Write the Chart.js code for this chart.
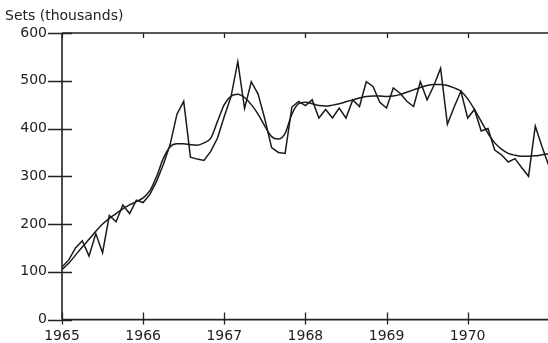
<!DOCTYPE html>
<html>
<head>
<meta charset="utf-8">
<script src="https://cdn.jsdelivr.net/npm/chart.js@4.4.1/dist/chart.umd.min.js"></script>
<style>
html,body{margin:0;padding:0;background:#fff;}
#wrap{width:548px;height:343px;position:relative;}
</style>
</head>
<body>
<div id="wrap"><canvas id="c" width="548" height="343"></canvas></div>
<script>
// Monthly observations starting January 1965
const startYear = 1965;
const monthly = [
 110,125,150,165,133,180,140,218,205,240,222,250,
 245,262,290,325,367,430,457,340,336,333,352,380,
 425,467,540,442,498,472,420,360,350,348,445,457,
 448,460,422,440,422,443,422,460,446,498,488,455,
 443,485,474,457,446,498,460,490,526,409,445,478,
 422,440,395,400,355,345,330,337,318,300,405,362,322
];
const trend = [
 105,118,135,152,168,185,200,212,222,232,240,247,
 255,270,300,338,362,368,368,366,365,370,380,415,
 450,468,472,465,450,430,405,383,378,390,430,452,
 455,452,448,447,449,452,456,460,464,467,468,468,
 467,468,471,476,481,486,490,492,492,490,485,478,
 462,440,415,390,370,357,348,344,342,342,343,345,347
];
const yearTicks = [1965,1966,1967,1968,1969,1970];
const valueTicks = [0,100,200,300,400,500,600];
const yTitle = 'Sets (thousands)';

const toPts = arr => arr.map((v,i)=>({x:startYear+i/12, y:v}));
const FONT = '"DejaVu Sans", "Liberation Sans", Arial, sans-serif';

const axisPlugin = {
  id:'axisPlugin',
  afterDraw(chart){
    const ctx = chart.ctx, a = chart.chartArea;
    const xs = chart.scales.x, ys = chart.scales.y;
    ctx.save();
    ctx.strokeStyle = '#222';
    ctx.lineWidth = 1.6;
    ctx.beginPath();
    ctx.moveTo(a.left, a.top); ctx.lineTo(a.left, a.bottom);
    ctx.moveTo(a.left, a.bottom); ctx.lineTo(a.right, a.bottom);
    ctx.moveTo(a.left, a.top); ctx.lineTo(a.right, a.top);
    ctx.stroke();
    ctx.lineWidth = 1.3;
    ctx.beginPath();
    yearTicks.forEach(y=>{
      const px = Math.round(xs.getPixelForValue(y))+0.5;
      ctx.moveTo(px, a.bottom+5); ctx.lineTo(px, a.bottom-7);
      ctx.moveTo(px, a.top); ctx.lineTo(px, a.top+5);
    });
    valueTicks.forEach(v=>{
      const py = Math.round(ys.getPixelForValue(v))+0.5;
      ctx.moveTo(a.left-14, py); ctx.lineTo(a.left+10, py);
    });
    ctx.stroke();
    ctx.fillStyle = '#222';
    ctx.font = '14px ' + FONT;
    ctx.textAlign = 'left';
    ctx.textBaseline = 'alphabetic';
    ctx.fillText(yTitle, 5, 20);
    ctx.restore();
  }
};

new Chart(document.getElementById('c'), {
  type:'line',
  data:{
    datasets:[
      {data:toPts(monthly), borderColor:'#1a1a1a', borderWidth:1.5, pointRadius:0, tension:0, fill:false},
      {data:toPts(trend), borderColor:'#1a1a1a', borderWidth:1.5, pointRadius:0, tension:0.4, cubicInterpolationMode:'monotone', fill:false}
    ]
  },
  options:{
    responsive:false,
    animation:false,
    devicePixelRatio:1,
    layout:{padding:{top:33,right:0,left:0,bottom:0}},
    plugins:{legend:{display:false}, tooltip:{enabled:false}, title:{display:false}},
    scales:{
      x:{
        type:'linear', min:1965, max:1970.99,
        afterBuildTicks(s){ s.ticks = yearTicks.map(v=>({value:v})); },
        afterFit(s){ s.height = 21; },
        grid:{display:false, drawTicks:false},
        border:{display:false},
        ticks:{color:'#222', font:{family:FONT, size:14}, padding:8, maxRotation:0, autoSkip:false,
               callback:v=>String(v)}
      },
      y:{
        min:0, max:600,
        afterBuildTicks(s){ s.ticks = valueTicks.map(v=>({value:v})); },
        afterFit(s){ s.width = 62; },
        grid:{display:false, drawTicks:false},
        border:{display:false},
        ticks:{color:'#222', font:{family:FONT, size:14}, padding:15, callback:v=>String(v)}
      }
    }
  },
  plugins:[axisPlugin]
});
</script>
</body>
</html>
